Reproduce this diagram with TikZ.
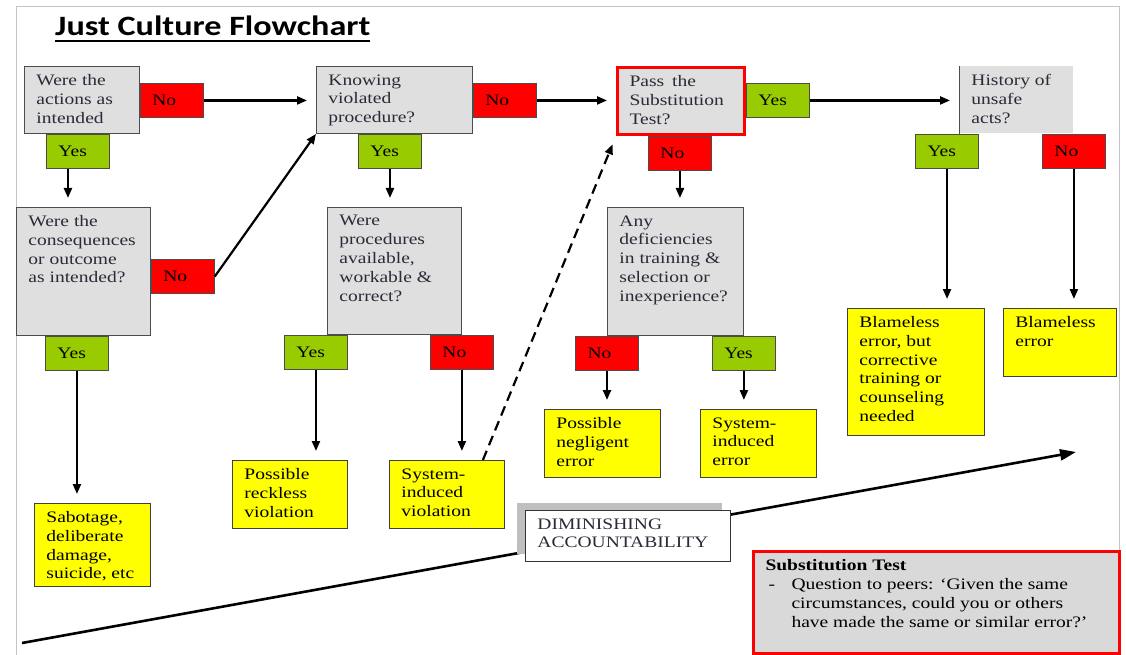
\documentclass[tikz,border=0pt]{standalone}
\usepackage{fontspec}
\setmainfont{Liberation Serif}[FakeStretch=1.22]
\newfontfamily\titlefont{Carlito}[FakeStretch=1.22]
\usetikzlibrary{positioning,arrows.meta,shadows}

\definecolor{qgray}{HTML}{DFDFDF}
\definecolor{tagred}{HTML}{FF0000}
\definecolor{taggreen}{HTML}{99CC00}
\definecolor{resyellow}{HTML}{FFFF00}
\definecolor{notegray}{HTML}{D9D9D9}
\definecolor{framegray}{HTML}{C4C4C4}
\definecolor{inkdark}{HTML}{2A2A38}

% text block of a box: outer width, outer height, lines
\newcommand{\cell}[3]{\parbox[c][\dimexpr#2pt-16pt\relax][t]{\dimexpr#1pt-24pt\relax}{\raggedright#3}}

\tikzset{
  box/.style={draw=black!70, line width=0.9pt, anchor=north west,
    inner xsep=12pt, inner ysep=8pt, font=\fontsize{16}{18.8}\selectfont},
  question/.style={box, fill=qgray, text=inkdark},
  result/.style={box, fill=resyellow, draw=black!75},
  tag/.style={draw=black!70, line width=0.9pt, minimum width=63pt,
    minimum height=34pt, text width=39pt, inner xsep=12pt, align=left,
    font=\fontsize{16}{18.8}\selectfont},
  yestag/.style={tag, fill=taggreen},
  notag/.style={tag, fill=tagred},
  flow/.style={-{Triangle[length=10pt,width=8pt]}, line width=2.2pt, shorten >=9pt},
}

\begin{document}
\begin{tikzpicture}[x=1pt,y=-1pt]
  \useasboundingbox (0,0) rectangle (1126,655);
  \draw[framegray, line width=1pt] (16,660) |- (1119,7) -- (1119,660);

  % title
  \node[anchor=base west, inner sep=0, font=\titlefont\bfseries\fontsize{28}{30}\selectfont]
    (title) at (55,36) {Just Culture Flowchart};
  \draw[line width=2.2pt] ([yshift=-5pt]title.base west) -- ([yshift=-5pt]title.base east);

  % accountability
  \coordinate (accfrom) at (22,643);
  \coordinate (accto) at (1076,452);
  \draw[-{Triangle[length=16pt,width=11pt]}, line width=2.6pt] (accfrom) -- (accto);
  \node[box, fill=white, draw=black!80, text=inkdark,
    drop shadow={shadow xshift=-8pt, shadow yshift=7pt, fill=black!25, opacity=1}]
    (dimacc) at (525,510) {\cell{205}{51}{DIMINISHING\\ACCOUNTABILITY}};

  % questions
  \node[question] (q1) at (24,66) {\cell{115}{67}{Were the\\actions as\\intended}};
  \node[question] (q2) at (16,207) {\cell{134}{128}{Were the\\consequences\\or outcome\\as intended?}};
  \node[question] (q3) at (316,66) {\cell{156}{67}{Knowing\\violated\\procedure?}};
  \node[question] (q4) at (327,207) {\cell{134}{127}{Were\\procedures\\available,\\workable \&\\correct?}};
  \node[question, draw=red, line width=3pt] (q5) at (616,66) {\cell{127}{67}{Pass\enspace the\\Substitution\\Test?}};
  \node[question, draw=none] (q6) at (959,66) {\cell{114}{67}{History of\\unsafe\\acts?}};
  \draw[black!70, line width=0.9pt] (q6.north west) -- (q6.south west);
  \node[question] (q7) at (607,207) {\cell{136}{128}{Any\\deficiencies\\in training \&\\selection or\\inexperience?}};

  % answers
  \node[notag, anchor=north west] (no1) at ([yshift=-17pt]q1.north east) {No};
  \node[yestag, anchor=north west] (yes1) at ([xshift=22pt]q1.south west) {Yes};
  \node[notag, anchor=north west] (no2) at ([yshift=-52pt]q2.north east) {No};
  \node[yestag, anchor=north west] (yes2) at ([xshift=29pt]q2.south west) {Yes};
  \node[notag, anchor=north west] (no3) at ([yshift=-17pt]q3.north east) {No};
  \node[yestag, anchor=north west] (yes3) at ([xshift=42pt]q3.south west) {Yes};
  \node[yestag, anchor=north west] (yes4) at ([xshift=-43pt]q4.south west) {Yes};
  \node[notag, anchor=north] (no4) at (q4.south east) {No};
  \node[yestag, anchor=north west] (yes5) at ([yshift=-17pt]q5.north east) {Yes};
  \node[notag, anchor=north west] (no5) at ([xshift=32pt]q5.south west) {No};
  \node[yestag, anchor=north east] (yes6) at ([xshift=20pt]q6.south west) {Yes};
  \node[notag, anchor=north] (no6) at (q6.south east) {No};
  \node[notag, anchor=north] (no7) at (q7.south west) {No};
  \node[yestag, anchor=north] (yes7) at (q7.south east) {Yes};

  % outcomes
  \node[result] (sabot) at (34,503) {\cell{116}{83}{Sabotage,\\deliberate\\damage,\\suicide, etc}};
  \node[result] (reckless) at (232,460) {\cell{115}{68}{Possible\\reckless\\violation}};
  \node[result] (sysviol) at (389,460) {\cell{115}{68}{System-\\induced\\violation}};
  \node[result] (neglig) at (544,409) {\cell{116}{68}{Possible\\negligent\\error}};
  \node[result] (syserr) at (700,409) {\cell{116}{68}{System-\\induced\\error}};
  \node[result] (blame1) at (847,308) {\cell{137}{127}{Blameless\\error, but\\corrective\\training or\\counseling\\needed}};
  \node[result] (blame2) at (1003,308) {\cell{113}{68}{Blameless\\error}};

  % note
  \node[box, fill=notegray, draw=red, line width=3pt, text=black] (subtest) at (752,550)
    {\cell{366}{102}{\textbf{Substitution Test}\\
      \hspace*{3pt}\makebox[23pt][l]{-}Question to peers: ‘Given the same\\
      \hspace*{26pt}circumstances, could you or others\\
      \hspace*{26pt}have made the same or similar error?’}};

  % connectors
  \draw[flow] ([xshift=-10pt]yes1.south) -- ([xshift=-10pt]yes1.south |- q2.north);
  \draw[flow] (yes2.south) -- (yes2.south |- sabot.north);
  \draw[flow] (no1.east) -- (no1.east -| q3.west);
  \draw[flow, shorten >=0pt] (no2.east) -- (q3.south west);
  \draw[flow] (yes3.south) -- (yes3.south |- q4.north);
  \draw[flow] (no3.east) -- (no3.east -| q5.west);
  \draw[flow] (yes4.south) -- (yes4.south |- reckless.north);
  \draw[flow] (no4.south) -- (no4.south |- sysviol.north);
  \draw[flow, dash pattern=on 10pt off 6pt] ([xshift=-22pt]sysviol.north east) -- (q5.south west);
  \draw[flow] (yes5.east) -- (yes5.east -| q6.west);
  \draw[flow] (no5.south) -- (no5.south |- q7.north);
  \draw[flow] (no7.south) -- (no7.south |- neglig.north);
  \draw[flow] (yes7.south) -- (yes7.south |- syserr.north);
  \draw[flow] (yes6.south) -- (yes6.south |- blame1.north);
  \draw[flow] (no6.south) -- (no6.south |- blame2.north);
\end{tikzpicture}
\end{document}
